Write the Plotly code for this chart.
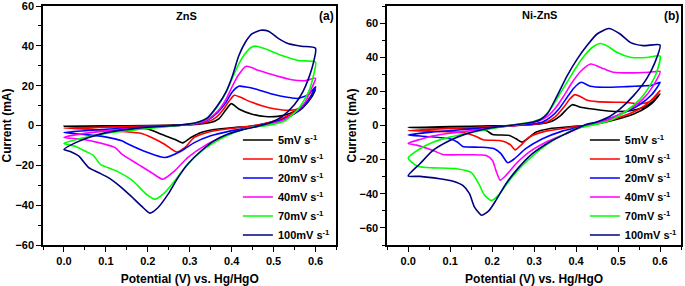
import plotly.graph_objects as go

# ---- data: (potential V, current mA) loops, forward scan 0 -> 0.6 then reverse 0.6 -> 0 ----
RATES = ["5mV s<sup>-1</sup>", "10mV s<sup>-1</sup>", "20mV s<sup>-1</sup>",
         "40mV s<sup>-1</sup>", "70mV s<sup>-1</sup>", "100mV s<sup>-1</sup>"]
COLORS = ["#000000", "#ff0000", "#0000ff", "#ff00ff", "#00ff00", "#000080"]

ZNS_5 = [(0,-0.4),(0.1,-0.2),(0.2,0),(0.28,0.3),(0.32,0.7),(0.35,1.5),(0.37,3.5),(0.385,7.5),(0.399,11),
         (0.417,8.3),(0.449,5.7),(0.48,4.5),(0.51,4.6),(0.54,6.2),(0.565,9),(0.585,13),(0.6,18),
         (0.59,14),(0.57,9),(0.55,6),(0.52,3.2),(0.48,1),(0.44,-0.5),(0.406,-1.0),(0.358,-2.0),(0.327,-3.5),
         (0.303,-6.0),(0.283,-8.7),(0.264,-6.9),(0.232,-4.4),(0.2,-1.8),(0.138,-0.7),(0.05,-0.5),(0,-0.4)]
ZNS_10 = [(0,-1.3),(0.1,-0.8),(0.2,-0.3),(0.28,0.2),(0.32,0.9),(0.345,2),(0.365,4.5),(0.38,8),(0.393,12),(0.406,15.2),
          (0.42,14.3),(0.433,13),(0.45,11.5),(0.472,9.9),(0.504,8.3),(0.536,7.6),(0.56,8.5),(0.58,12),(0.6,19),
          (0.585,13.5),(0.565,9),(0.54,5.5),(0.51,2.8),(0.48,1.0),(0.445,-0.3),(0.406,-1.3),(0.35,-3.0),(0.311,-6.0),
          (0.288,-11.1),(0.268,-13.3),(0.24,-9.4),(0.209,-6.0),(0.185,-4.0),(0.138,-3.0),(0.059,-1.8),(0,-1.3)]
ZNS_20 = [(0,-3.5),(0.05,-2.6),(0.1,-1.9),(0.2,-0.8),(0.28,0.2),(0.32,1.2),(0.343,2.8),(0.366,6.5),(0.386,11.5),(0.40,16.5),
          (0.417,19.7),(0.435,19.3),(0.457,18.3),(0.496,15.8),(0.536,14.1),(0.559,13.6),(0.583,15.5),(0.6,19.5),
          (0.59,15),(0.575,10.5),(0.55,6),(0.52,2.8),(0.48,0.6),(0.445,-1),(0.398,-2.7),(0.35,-5.2),(0.311,-8.6),
          (0.28,-12.8),(0.24,-16.1),(0.2,-13.6),(0.154,-9.4),(0.138,-7.7),(0.098,-5.7),(0.043,-4.4),(0,-3.5)]
ZNS_40 = [(0,-6),(0.03,-4.6),(0.08,-3.2),(0.15,-1.7),(0.25,-0.3),(0.3,0.5),(0.33,1.7),(0.343,3),(0.366,7),(0.386,13),
          (0.40,19),(0.415,25),(0.435,29.7),(0.465,27.6),(0.504,25.1),(0.543,23),(0.575,22.5),(0.6,23.7),
          (0.59,18.3),(0.575,11.6),(0.551,6.6),(0.52,2.4),(0.48,0.2),(0.445,-1),(0.41,-3),(0.374,-6),(0.335,-10.2),
          (0.295,-16.1),(0.264,-22.8),(0.236,-27),(0.209,-23.7),(0.177,-19.5),(0.138,-14.4),(0.122,-11.1),
          (0.083,-8.6),(0.043,-6.9),(0,-6)]
ZNS_70 = [(0,-9),(0.03,-7),(0.06,-5.5),(0.1,-4),(0.2,-1.5),(0.28,0.2),(0.31,1),(0.33,2.5),(0.343,3.8),(0.366,9.5),
          (0.386,16.5),(0.40,23),(0.415,30),(0.43,35.5),(0.449,39.5),(0.46,39.8),(0.48,38.5),(0.52,35.1),(0.559,32.6),(0.6,31.8),
          (0.595,25),(0.583,16.6),(0.559,8.3),(0.528,2.4),(0.49,0.2),(0.445,-1),(0.406,-3.5),(0.358,-8.6),(0.319,-14.4),
          (0.288,-21.2),(0.264,-27.9),(0.24,-33.8),(0.217,-37),(0.197,-34.6),(0.165,-27.9),(0.126,-22.9),(0.087,-19.5),
          (0.07,-15),(0.05,-12.8),(0.028,-10.5),(0,-9)]
ZNS_100 = [(0,-12),(0.028,-8.6),(0.059,-6),(0.098,-3.7),(0.177,-1.3),(0.256,-0.1),(0.3,0.8),(0.325,2),(0.343,4),(0.366,9.9),
           (0.386,16.6),(0.402,25),(0.417,35),(0.433,41.9),(0.449,46.1),(0.469,47.8),(0.488,47.3),(0.512,43.6),(0.536,41),
           (0.567,39.8),(0.6,38.8),
           (0.595,31.5),(0.583,23.4),(0.57,17),(0.55,10.5),(0.52,4.5),(0.49,1.2),(0.455,-0.8),(0.425,-2.2),(0.39,-4.4),
           (0.358,-7.7),(0.327,-12.8),(0.295,-19.5),(0.272,-26.2),(0.248,-34.6),(0.224,-41.3),(0.205,-44),(0.185,-40.5),
           (0.16,-35.5),(0.138,-31.3),(0.106,-26.2),(0.083,-23.7),(0.059,-21.2),(0.035,-15.3),(0.015,-13),(0,-12)]

NIZNS_5 = [(0,-1.2),(0.1,-0.6),(0.2,-0.2),(0.28,0.3),(0.32,1.2),(0.345,2.8),(0.363,5.8),(0.379,9.8),(0.391,12.2),
           (0.411,10.7),(0.434,9.8),(0.466,8.8),(0.497,8.2),(0.529,8.6),(0.56,10.5),(0.58,13.5),(0.6,18.5),
           (0.585,14),(0.57,11),(0.54,7),(0.5,3.8),(0.46,1.5),(0.422,0),(0.391,-0.6),(0.336,-1.9),(0.304,-3.9),
           (0.284,-7.8),(0.271,-9.7),(0.257,-7.8),(0.241,-5.8),(0.201,-5.3),(0.186,-2.9),(0.138,-1.6),(0,-1.2)]
NIZNS_10 = [(0,-3),(0.05,-2.3),(0.1,-1.8),(0.2,-0.8),(0.25,-0.2),(0.3,0.7),(0.33,2),(0.35,5),(0.37,10.5),(0.385,15.5),
            (0.397,18.1),(0.41,17),(0.425,15),(0.45,14),(0.5,13.6),(0.521,13.5),(0.545,12.7),(0.568,13.3),(0.584,15.6),(0.6,20.5),
            (0.58,15),(0.55,9.5),(0.5,4.5),(0.46,2),(0.422,0),(0.375,-1.5),(0.328,-3.3),(0.288,-6.8),(0.268,-11.7),
            (0.255,-14.3),(0.245,-11.7),(0.233,-9.8),(0.217,-8.8),(0.178,-8.4),(0.162,-6.4),(0.138,-4.5),(0.059,-3.3),(0,-3)]
NIZNS_20 = [(0,-5.5),(0.05,-4),(0.1,-3),(0.15,-2),(0.2,-1),(0.25,0),(0.3,1),(0.32,2),(0.34,5),(0.36,10),(0.38,17),
            (0.395,22),(0.412,25.3),(0.434,23),(0.466,22.4),(0.521,22.8),(0.56,23.2),(0.58,23.5),(0.6,25.3),
            (0.58,18),(0.55,12),(0.5,6),(0.46,2.5),(0.422,0),(0.367,-3.3),(0.32,-7.8),(0.28,-13.6),(0.253,-19.5),
            (0.237,-21.8),(0.221,-16.5),(0.205,-13.6),(0.17,-12.7),(0.13,-12.3),(0.118,-9.8),(0.099,-7.8),(0.043,-6.4),(0,-5.5)]
NIZNS_40 = [(0,-10.5),(0.03,-8),(0.06,-6),(0.1,-4.5),(0.15,-3),(0.2,-1.5),(0.25,0),(0.29,1.5),(0.31,2.5),(0.33,5),
            (0.35,10),(0.37,17),(0.39,25),(0.41,31.5),(0.435,36),(0.466,33.2),(0.489,31.2),(0.529,30.8),(0.576,31.2),(0.6,31.6),
            (0.584,23.4),(0.56,15.6),(0.529,9.8),(0.489,4.9),(0.45,1.5),(0.422,0),(0.375,-4.9),(0.328,-9.8),(0.288,-15.6),
            (0.257,-22.4),(0.233,-29.2),(0.219,-32),(0.209,-26.3),(0.201,-20.5),(0.186,-17.5),(0.138,-17.1),(0.083,-17),
            (0.059,-14.6),(0.02,-11.5),(0,-10.5)]
NIZNS_70 = [(0,-19),(0.028,-13.6),(0.059,-9.8),(0.099,-6.8),(0.154,-3.9),(0.217,-1),(0.28,1.4),(0.3,2.5),(0.32,4.5),
            (0.34,10),(0.36,18),(0.38,26),(0.40,34),(0.42,41),(0.44,46),(0.458,48),(0.475,46.5),(0.497,42.9),(0.529,40),
            (0.568,39.8),(0.6,40.7),
            (0.592,31.2),(0.576,23.4),(0.553,15.6),(0.521,8.8),(0.482,3),(0.45,0.8),(0.42,-0.8),(0.399,-1.9),(0.351,-7.8),
            (0.312,-14.6),(0.272,-23.4),(0.241,-32.2),(0.215,-40.9),(0.198,-43.9),(0.182,-40.9),(0.168,-34.1),(0.15,-27.5),
            (0.115,-25.3),(0.059,-24.8),(0.024,-24),(0.008,-21.5),(0,-19)]
NIZNS_100 = [(0,-29.5),(0.028,-22.4),(0.059,-14.6),(0.099,-8.8),(0.138,-4.9),(0.186,-1.9),(0.241,0),(0.296,1.9),(0.315,3.5),
             (0.332,7),(0.355,17.5),(0.379,29.2),(0.403,39),(0.426,46.8),(0.45,53.6),(0.478,56.8),(0.505,53.6),(0.529,48.7),
             (0.56,46.8),(0.6,47.2),
             (0.588,37),(0.568,27.3),(0.537,17.5),(0.505,9.8),(0.474,4.5),(0.445,1.8),(0.422,0.5),(0.375,-4.9),(0.336,-9.8),
             (0.296,-16.5),(0.264,-24.4),(0.233,-34.1),(0.209,-43.9),(0.193,-49.7),(0.175,-52.6),(0.158,-47.8),(0.146,-39.9),
             (0.13,-35.1),(0.107,-32.6),(0.075,-31.2),(0.028,-29.8),(0,-29.5)]

PANEL_A = [ZNS_5, ZNS_10, ZNS_20, ZNS_40, ZNS_70, ZNS_100]
PANEL_B = [NIZNS_5, NIZNS_10, NIZNS_20, NIZNS_40, NIZNS_70, NIZNS_100]

FONT = "Liberation Sans, Arial, sans-serif"

fig = go.Figure()
for panel, xa, ya, lg in [(PANEL_A, "x", "y", "legend"), (PANEL_B, "x2", "y2", "legend2")]:
    for series, name, col in zip(panel, RATES, COLORS):
        xs = [p[0] for p in series]
        ys = [p[1] for p in series]
        fig.add_trace(go.Scatter(x=xs, y=ys, mode="lines", name=name, xaxis=xa, yaxis=ya, legend=lg,
                                 line=dict(color=col, width=1.6, shape="spline", smoothing=0.6)))

axis_common = dict(showline=True, linecolor="black", linewidth=1.5, mirror=True, showgrid=False,
                   zeroline=False, ticks="outside", ticklen=5, tickwidth=1.3, tickcolor="black",
                   automargin=False, ticklabeloverflow="allow",
                   tickfont=dict(family=FONT, size=11, color="black", weight="bold"))

TITLE_FONT = dict(family=FONT, size=12, color="black", weight="bold")

xa_common = dict(axis_common, range=[-0.05, 0.65], tick0=0, dtick=0.1, tickformat=".1f",
                 minor=dict(dtick=0.05, ticks="outside", ticklen=3, tickwidth=1.2, tickcolor="black"),
                 title=dict(text="Potential (V) vs. Hg/HgO", font=TITLE_FONT))

ya_minor = dict(dtick=10, ticks="outside", ticklen=3, tickwidth=1.2, tickcolor="black")

fig.update_layout(
    width=685, height=286,
    margin=dict(l=43, r=3, t=6, b=41),
    paper_bgcolor="white", plot_bgcolor="white",
    showlegend=True,
    xaxis=dict(xa_common, domain=[0, 0.46], anchor="y"),
    xaxis2=dict(xa_common, domain=[0.5395, 1.0], anchor="y2"),
    yaxis=dict(axis_common, range=[-60, 60], tick0=0, dtick=20, domain=[0, 1], anchor="x",
               minor=ya_minor, title=dict(text="Current (mA)", font=TITLE_FONT, standoff=2)),
    yaxis2=dict(axis_common, range=[-70, 70], tick0=0, dtick=20, domain=[0, 1], anchor="x2",
                minor=ya_minor, title=dict(text="Current (mA)", font=TITLE_FONT, standoff=0)),
    legend=dict(x=0.305, y=0.5, xanchor="left", yanchor="top", bgcolor="rgba(0,0,0,0)",
                font=dict(family=FONT, size=11, color="black", weight="bold"), tracegroupgap=0),
    legend2=dict(x=0.848, y=0.5, xanchor="left", yanchor="top", bgcolor="rgba(0,0,0,0)",
                 font=dict(family=FONT, size=11, color="black", weight="bold"), tracegroupgap=0),
    annotations=[
        dict(text="ZnS", x=0.2254, y=0.958, xref="paper", yref="paper", showarrow=False,
             xanchor="center", yanchor="middle",
             font=dict(family=FONT, size=11, color="black", weight="bold")),
        dict(text="(a)", x=0.4444, y=0.958, xref="paper", yref="paper", showarrow=False,
             xanchor="center", yanchor="middle",
             font=dict(family=FONT, size=12, color="black", weight="bold")),
        dict(text="Ni-ZnS", x=0.7778, y=0.962, xref="paper", yref="paper", showarrow=False,
             xanchor="center", yanchor="middle",
             font=dict(family=FONT, size=11, color="black", weight="bold")),
        dict(text="(b)", x=0.9844, y=0.958, xref="paper", yref="paper", showarrow=False,
             xanchor="center", yanchor="middle",
             font=dict(family=FONT, size=12, color="black", weight="bold")),
    ],
)

fig.write_html("out.html", config={"displayModeBar": False},
               post_script="document.body.style.margin='0';")
